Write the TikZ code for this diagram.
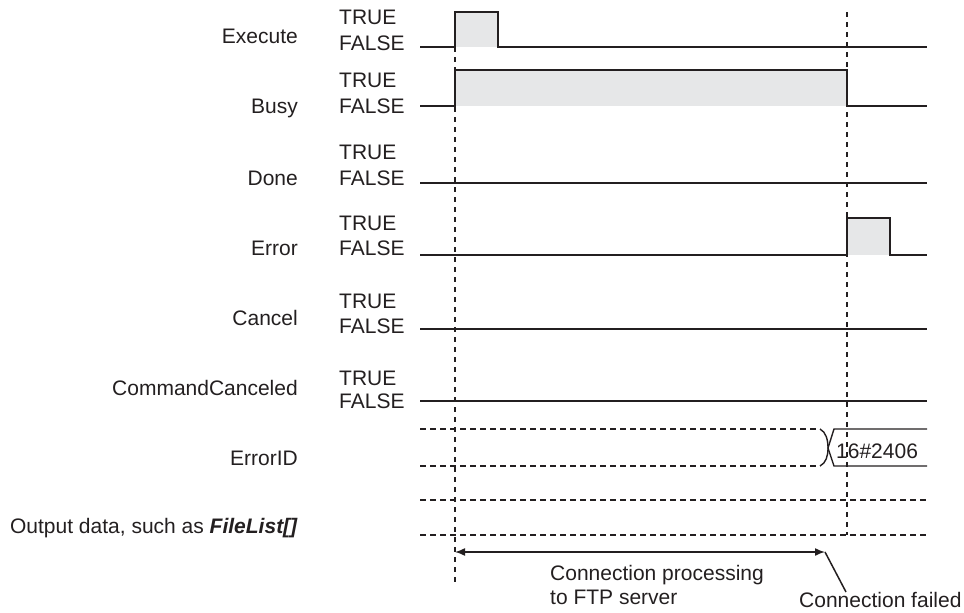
\documentclass[tikz,border=0pt]{standalone}
\usepackage{fontspec}
\setmainfont{Liberation Sans}
\usetikzlibrary{arrows.meta}
\definecolor{ink}{RGB}{35,31,32}
\definecolor{fillg}{RGB}{230,231,232}
\tikzset{
  lbl/.style={font=\fontsize{21}{24}\selectfont, text=ink, inner sep=0pt},
  sname/.style={lbl, anchor=base east},
  lvl/.style={lbl, anchor=base west},
  sig/.style={line width=2pt, draw=ink, line join=miter},
  thinsig/.style={line width=1.4pt, draw=ink},
  gridline/.style={line width=1.8pt, draw=ink, dash pattern=on 6pt off 4pt},
  vguide/.style={line width=1.8pt, draw=ink, dash pattern=on 5pt off 5pt},
  dimarrow/.style={line width=1.5pt, draw=ink, {Latex[length=10pt,width=8pt]}-{Latex[length=10pt,width=8pt]}},
  leader/.style={line width=1.5pt, draw=ink},
}
\begin{document}
\begin{tikzpicture}[x=1pt,y=-1pt]
\useasboundingbox (0,0) rectangle (964,613);

% shaded high periods
\fill[fillg] (455,12) rectangle (498,47);
\fill[fillg] (455,70) rectangle (847,106);
\fill[fillg] (847,218) rectangle (890,255);

% vertical guides
\draw[vguide] (455,47) -- (455,585);
\draw[vguide] (847,12) -- (847,535);

% signal names
\node[sname] (nExec) at (298,43) {Execute};
\node[sname] (nBusy) at (298,113) {Busy};
\node[sname] (nDone) at (298,185) {Done};
\node[sname] (nErr) at (298,255) {Error};
\node[sname] (nCan) at (298,325) {Cancel};
\node[sname] (nCC) at (298,395) {CommandCanceled};
\node[sname] (nEID) at (298,465) {ErrorID};
\node[sname] (nOut) at (298,533) {Output data, such as \textbf{\textit{FileList[]}}};

% TRUE / FALSE levels
\node[lvl] (t1) at (339,24) {TRUE};
\node[lvl] (f1) at (339,50) {FALSE};
\node[lvl] (t2) at (339,87) {TRUE};
\node[lvl] (f2) at (339,113) {FALSE};
\node[lvl] (t3) at (339,159) {TRUE};
\node[lvl] (f3) at (339,185) {FALSE};
\node[lvl] (t4) at (339,230) {TRUE};
\node[lvl] (f4) at (339,255) {FALSE};
\node[lvl] (t5) at (339,308) {TRUE};
\node[lvl] (f5) at (339,333) {FALSE};
\node[lvl] (t6) at (339,385) {TRUE};
\node[lvl] (f6) at (339,408) {FALSE};

% waveforms
\draw[sig] (420,47) -- (455,47) -- (455,12) -- (498,12) -- (498,47) -- (927,47);
\draw[sig] (420,106) -- (455,106) -- (455,70) -- (847,70) -- (847,106) -- (927,106);
\draw[sig] (420,183) -- (927,183);
\draw[sig] (420,255) -- (847,255) -- (847,218) -- (890,218) -- (890,255) -- (927,255);
\draw[sig] (420,329) -- (927,329);
\draw[sig] (420,401) -- (927,401);

% ErrorID
\draw[gridline] (420,429) -- (820,429);
\draw[gridline] (420,466) -- (820,466);
\draw[thinsig] (820,429) .. controls (826,432) and (828,440) .. (828,448)
               .. controls (828,456) and (826,463) .. (820,466);
\draw[thinsig] (927,429) -- (834,429) -- (828,448) -- (834,466) -- (927,466);
\node[lvl] (eidv) at (836,458) {16\#2406};

% Output data
\draw[gridline] (420,500) -- (927,500);
\draw[gridline] (420,535) -- (927,535);

% dimension arrow and annotation
\coordinate (as) at (455,552);
\coordinate (ae) at (825,552);
\coordinate (lf) at (846,592);
\draw[dimarrow] (as) -- (ae);
\draw[leader] (ae) -- (lf);
\node[lvl] (cp1) at (550,580) {Connection processing};
\node[lvl] (cp2) at (550,604) {to FTP server};
\node[lvl] (cf) at (799,607) {Connection failed};
\end{tikzpicture}
\end{document}
